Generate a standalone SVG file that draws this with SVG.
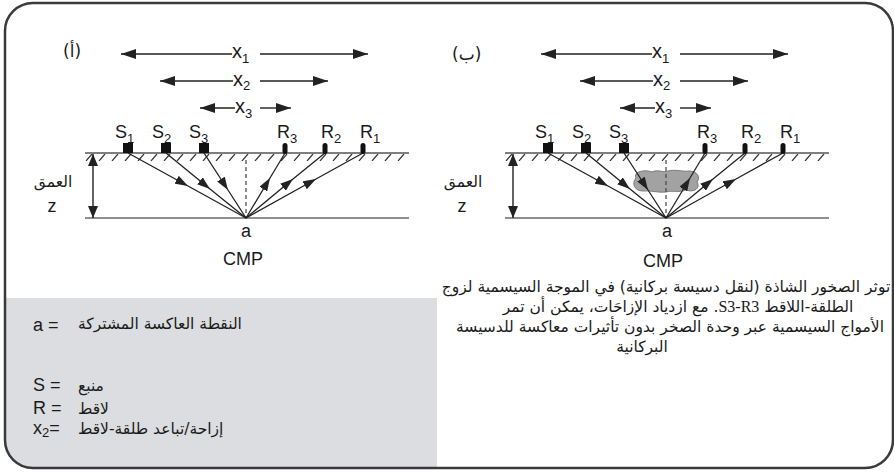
<svg xmlns="http://www.w3.org/2000/svg" xmlns:xlink="http://www.w3.org/1999/xlink" width="894" height="472" viewBox="0 0 894 472">
  <style>
    .lat { font-family: "Liberation Sans", Arial, sans-serif; fill: #1a1a1a; }
    .ar { font-family: "DejaVu Sans", "Noto Sans", sans-serif; fill: #1a1a1a; }
    .lbl { font-size: 18px; }
    .sub { font-size: 13px; }
    .dimL { stroke: #222; stroke-width: 1.4; fill: none; marker-start: url(#dimHead); }
    .dimR { stroke: #222; stroke-width: 1.4; fill: none; marker-end: url(#dimHead); }
    .ray { stroke: #222; stroke-width: 1.3; fill: none; marker-mid: url(#rayHead); }
    .ground { stroke: #555; stroke-width: 1.6; }
    .reflector { stroke: #6a6a6a; stroke-width: 1.6; }
    .axis { stroke: #444; stroke-width: 1.2; stroke-dasharray: 4 3; }
    .src { fill: #111; }
    .rcv { fill: #111; }
  </style>
  <defs>
    <marker id="dimHead" viewBox="0 0 15 10" refX="15" refY="5" markerWidth="15" markerHeight="10" markerUnits="userSpaceOnUse" orient="auto-start-reverse">
      <path d="M0,0 L15,5 L0,10 Z" fill="#222"/>
    </marker>
    <marker id="rayHead" viewBox="0 0 13 9" refX="13" refY="4.5" markerWidth="13" markerHeight="9" markerUnits="userSpaceOnUse" orient="auto">
      <path d="M0,0 L13,4.5 L0,9 Z" fill="#222"/>
    </marker>
    <marker id="depthHead" viewBox="0 0 12 10" refX="12" refY="5" markerWidth="12" markerHeight="10" markerUnits="userSpaceOnUse" orient="auto-start-reverse">
      <path d="M0,0 L12,5 L0,10 Z" fill="#222"/>
    </marker>
    <pattern id="hatch" patternUnits="userSpaceOnUse" x="85" y="154" width="13" height="7">
      <path d="M1,7 L7,0" stroke="#333" stroke-width="1.2"/>
    </pattern>
    <clipPath id="frameClip">
      <rect x="5" y="3" width="888" height="465" rx="28"/>
    </clipPath>
  </defs>

  <rect width="894" height="472" fill="#ffffff"/>

  <!-- legend panel -->
  <g id="legend">
    <rect x="0" y="298" width="437" height="174" fill="#dcdde0" clip-path="url(#frameClip)"/>
    <text class="lat lbl" x="33" y="331">a =</text>
    <text class="ar" font-size="15.5" x="78" y="329">النقطة العاكسة المشتركة</text>
    <text class="lat lbl" x="33" y="391">S =</text>
    <text class="ar" font-size="15.5" x="78" y="391">منبع</text>
    <text class="lat lbl" x="33" y="414">R =</text>
    <text class="ar" font-size="15.5" x="78" y="414">لاقط</text>
    <text class="lat lbl" x="33" y="434">x<tspan class="sub" dy="3">2</tspan><tspan dy="-3">=</tspan></text>
    <text class="ar" font-size="15.5" x="78" y="434">إزاحة/تباعد طلقة-لاقط</text>
  </g>

  <!-- outer frame -->
  <rect id="frame" x="5" y="3" width="888" height="465" rx="28" fill="none" stroke="#3a3a3a" stroke-width="2.5"/>

  <!-- panel (a): plain CMP gather -->
  <g id="panel-a">
    <text class="ar" font-size="17" x="63" y="57">(أ)</text>

    <g id="offsets-a">
      <path class="dimL" d="M121,54 H232"/>
      <path class="dimR" d="M260,54 H368"/>
      <text class="lat" font-size="20" x="232" y="58">x<tspan class="sub" dy="5">1</tspan></text>
      <path class="dimL" d="M160,81 H233"/>
      <path class="dimR" d="M260,81 H328"/>
      <text class="lat" font-size="20" x="233" y="86">x<tspan class="sub" dy="4">2</tspan></text>
      <path class="dimL" d="M200,108 H235"/>
      <path class="dimR" d="M260,108 H291"/>
      <text class="lat" font-size="20" x="235" y="113">x<tspan class="sub" dy="5">3</tspan></text>
    </g>

    <g id="ground-a">
      <line class="ground" x1="85" y1="153" x2="409" y2="153"/>
      <rect x="85" y="154" width="324" height="7" fill="url(#hatch)"/>
      <line class="reflector" x1="85" y1="218" x2="409" y2="218"/>
      <line class="axis" x1="246" y1="160" x2="246" y2="218"/>
    </g>

    <g id="depth-a">
      <line x1="93" y1="154" x2="93" y2="218" stroke="#222" stroke-width="1.4" marker-start="url(#depthHead)" marker-end="url(#depthHead)"/>
      <text class="ar" font-size="15.5" x="53" y="187" text-anchor="middle">العمق</text>
      <text class="lat lbl" x="52" y="212" text-anchor="middle">z</text>
    </g>

    <g id="connectors-a">
      <polyline class="ray" points="128,153 188,186 246,218"/>
      <polyline class="ray" points="166,153 210,189 246,218"/>
      <polyline class="ray" points="204,153 228,190 246,218"/>
      <polyline class="ray" points="246,218 270,178 285,153"/>
      <polyline class="ray" points="246,218 293,179 325,153"/>
      <polyline class="ray" points="246,218 316,179 363,153"/>
    </g>

    <g id="sources-a">
      <rect class="src" x="123" y="143" width="10" height="10"/>
      <rect class="src" x="161" y="143" width="10" height="10"/>
      <rect class="src" x="199" y="143" width="10" height="10"/>
      <text class="lat lbl" x="115" y="138">S<tspan class="sub" dy="5">1</tspan></text>
      <text class="lat lbl" x="152" y="138">S<tspan class="sub" dy="5">2</tspan></text>
      <text class="lat lbl" x="189" y="138">S<tspan class="sub" dy="5">3</tspan></text>
    </g>

    <g id="receivers-a">
      <rect class="rcv" x="282.5" y="143" width="5" height="11" rx="2.5"/>
      <rect class="rcv" x="322.5" y="143" width="5" height="11" rx="2.5"/>
      <rect class="rcv" x="360.5" y="143" width="5" height="11" rx="2.5"/>
      <text class="lat lbl" x="277" y="138">R<tspan class="sub" dy="5">3</tspan></text>
      <text class="lat lbl" x="321" y="138">R<tspan class="sub" dy="5">2</tspan></text>
      <text class="lat lbl" x="360" y="138">R<tspan class="sub" dy="5">1</tspan></text>
    </g>

    <g id="cmp-a">
      <text class="lat lbl" x="246" y="237" text-anchor="middle">a</text>
      <text class="lat lbl" x="243" y="265" text-anchor="middle">CMP</text>
    </g>
  </g>

  <!-- panel (b): same gather with a volcanic body above the reflector -->
  <g id="panel-b">
    <text class="ar" font-size="17" x="452" y="60">(ب)</text>

    <g id="offsets-b" transform="translate(420,0)">
      <path class="dimL" d="M121,54 H232"/>
      <path class="dimR" d="M260,54 H368"/>
      <text class="lat" font-size="20" x="232" y="58">x<tspan class="sub" dy="5">1</tspan></text>
      <path class="dimL" d="M160,81 H233"/>
      <path class="dimR" d="M260,81 H328"/>
      <text class="lat" font-size="20" x="233" y="86">x<tspan class="sub" dy="4">2</tspan></text>
      <path class="dimL" d="M200,108 H235"/>
      <path class="dimR" d="M260,108 H291"/>
      <text class="lat" font-size="20" x="235" y="113">x<tspan class="sub" dy="5">3</tspan></text>
    </g>

    <g id="ground-b" transform="translate(420,0)">
      <line class="ground" x1="85" y1="153" x2="409" y2="153"/>
      <rect x="85" y="154" width="324" height="7" fill="url(#hatch)"/>
      <line class="reflector" x1="85" y1="218" x2="409" y2="218"/>
    </g>

    <g id="volcanic-body">
      <path d="M636,178 C633,172 644,169 652,172 C658,169 663,173 668,171 C675,169 683,172 689,171 C697,171 701,177 697,182 C701,188 694,193 686,190 C678,193 672,190 666,192 C658,193 650,190 643,191 C635,191 631,184 636,178 Z" fill="#a2a2a2" stroke="#7a7a7a" stroke-width="1"/>
    </g>

    <line class="axis" x1="666" y1="160" x2="666" y2="218"/>

    <g id="depth-b">
      <line x1="513" y1="154" x2="513" y2="218" stroke="#222" stroke-width="1.4" marker-start="url(#depthHead)" marker-end="url(#depthHead)"/>
      <text class="ar" font-size="15.5" x="463" y="187" text-anchor="middle">العمق</text>
      <text class="lat lbl" x="462" y="212" text-anchor="middle">z</text>
    </g>

    <g id="connectors-b" transform="translate(420,0)">
      <polyline class="ray" points="128,153 188,186 246,218"/>
      <polyline class="ray" points="166,153 210,189 246,218"/>
      <polyline class="ray" points="204,153 228,190 246,218"/>
      <polyline class="ray" points="246,218 270,178 285,153"/>
      <polyline class="ray" points="246,218 293,179 325,153"/>
      <polyline class="ray" points="246,218 316,179 363,153"/>
    </g>

    <g id="sources-b" transform="translate(420,0)">
      <rect class="src" x="123" y="143" width="10" height="10"/>
      <rect class="src" x="161" y="143" width="10" height="10"/>
      <rect class="src" x="199" y="143" width="10" height="10"/>
      <text class="lat lbl" x="115" y="138">S<tspan class="sub" dy="5">1</tspan></text>
      <text class="lat lbl" x="152" y="138">S<tspan class="sub" dy="5">2</tspan></text>
      <text class="lat lbl" x="189" y="138">S<tspan class="sub" dy="5">3</tspan></text>
    </g>

    <g id="receivers-b" transform="translate(420,0)">
      <rect class="rcv" x="282.5" y="143" width="5" height="11" rx="2.5"/>
      <rect class="rcv" x="322.5" y="143" width="5" height="11" rx="2.5"/>
      <rect class="rcv" x="360.5" y="143" width="5" height="11" rx="2.5"/>
      <text class="lat lbl" x="277" y="138">R<tspan class="sub" dy="5">3</tspan></text>
      <text class="lat lbl" x="321" y="138">R<tspan class="sub" dy="5">2</tspan></text>
      <text class="lat lbl" x="360" y="138">R<tspan class="sub" dy="5">1</tspan></text>
    </g>

    <g id="cmp-b">
      <text class="lat lbl" x="667" y="237" text-anchor="middle">a</text>
      <text class="lat lbl" x="663" y="267" text-anchor="middle">CMP</text>
    </g>
  </g>

  <!-- caption for panel (b) -->
  <g id="caption" class="ar" font-size="15.5" text-anchor="middle" direction="rtl" unicode-bidi="embed">
    <text x="666" y="292">توثر الصخور الشاذة (لنقل دسيسة بركانية) في الموجة السيسمية لزوج</text>
    <text x="678" y="312">الطلقة-اللاقط <tspan font-family="Liberation Serif, serif" font-size="16">S3-R3</tspan>. مع ازدياد الإزاحَات، يمكن أن تمر</text>
    <text x="670" y="332">الأمواج السيسمية عبر وحدة الصخر بدون تأثيرات معاكسة للدسيسة</text>
    <text x="642" y="352">البركانية</text>
  </g>
</svg>
